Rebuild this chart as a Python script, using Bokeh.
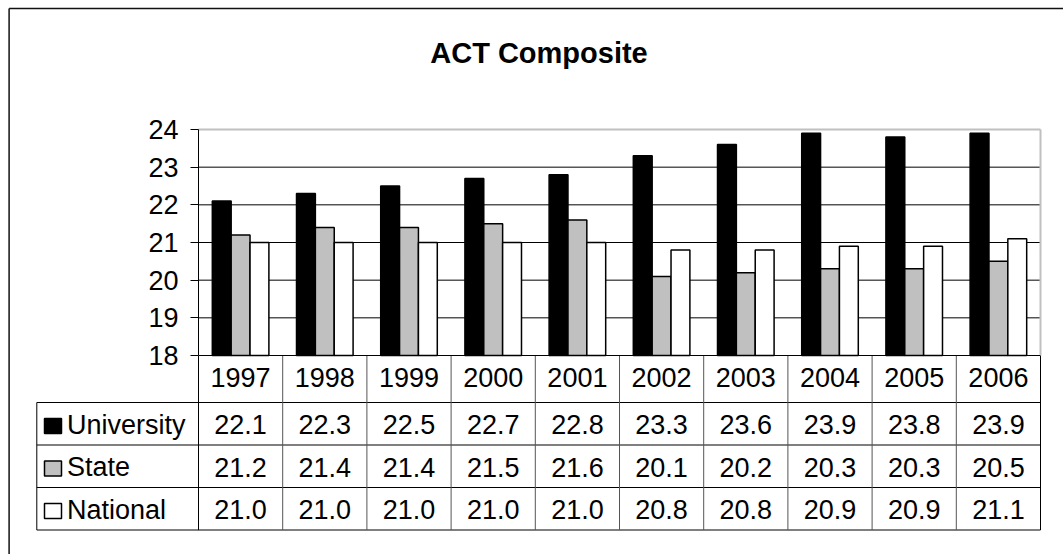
from bokeh.plotting import figure
from bokeh.models import ColumnDataSource, Range1d, FixedTicker, LinearAxis
from bokeh.transform import dodge
from bokeh.embed import file_html
from bokeh.resources import INLINE
from bokeh.core.properties import value

# ---------------- data ----------------
TITLE = "ACT Composite"
YEARS = ["1997", "1998", "1999", "2000", "2001", "2002", "2003", "2004", "2005", "2006"]
SERIES = ["University", "State", "National"]
UNIVERSITY = [22.1, 22.3, 22.5, 22.7, 22.8, 23.3, 23.6, 23.9, 23.8, 23.9]
STATE = [21.2, 21.4, 21.4, 21.5, 21.6, 20.1, 20.2, 20.3, 20.3, 20.5]
NATIONAL = [21.0, 21.0, 21.0, 21.0, 21.0, 20.8, 20.8, 20.9, 20.9, 21.1]
Y_TICKS = [18, 19, 20, 21, 22, 23, 24]

# ---------------- styles / layout (pixels) ----------------
FONT = "Liberation Sans"
COLORS = ["#000000", "#c0c0c0", "#ffffff"]
FS = "27px"
BAR_W = 0.224
OFFSETS = [-0.224, 0.0, 0.224]

FRAME_L, FRAME_R, FRAME_T, FRAME_B = 7, 1063, 6, 554
X0_PX, COL_PX = 198.0, 84.2                 # x = 0 at plot-area left, px per column
YMIN_PX, YMAX_PX = 355.0, 129.0             # pixel rows of the value axis ends
ROW0_PX, ROW_PX, HEADER_PX = 355.5, 42.5, 46.5

n = len(YEARS)
values = [UNIVERSITY, STATE, NATIONAL]
ymin, ymax = Y_TICKS[0], Y_TICKS[-1]
Y_UNIT_PX = (YMIN_PX - YMAX_PX) / (ymax - ymin)


def px_x(px):
    return (px - X0_PX) / COL_PX


def px_y(py):
    return ymin + (YMIN_PX - py) / Y_UNIT_PX


def px_row(py):
    return (py - ROW0_PX) / ROW_PX


p = figure(x_range=Range1d(px_x(FRAME_L), px_x(FRAME_R)),
           y_range=Range1d(px_y(FRAME_B), px_y(FRAME_T)),
           width=FRAME_R, height=FRAME_B,
           frame_width=FRAME_R - FRAME_L, frame_height=FRAME_B - FRAME_T,
           min_border=0, min_border_left=FRAME_L, min_border_right=0,
           min_border_top=FRAME_T, min_border_bottom=0,
           x_axis_location=None, y_axis_location=None, title_location=None,
           output_backend="svg", toolbar_location=None)
p.extra_y_ranges = {"table": Range1d(px_row(FRAME_B), px_row(FRAME_T))}
p.grid.visible = False
p.outline_line_color = None
p.outline_line_alpha = 0
p.background_fill_color = "white"
p.border_fill_color = "white"

# ---- outer chart border (top and left edges visible) ----
p.segment(x0=[px_x(8.6), px_x(8.6)], y0=[px_y(8), px_y(8)], x1=[px_x(8.6), px_x(FRAME_R)],
          y1=[px_y(FRAME_B), px_y(8)], line_color="#111111", line_width=1.5)

# ---- title ----
p.text(x=[px_x(538.5)], y=[px_y(52.3)], text=[TITLE], text_align="center",
       text_baseline="middle", text_font=value(FONT), text_font_size="29px",
       text_font_style="bold", text_color="black")

# ---- gridlines and plot-area edges ----
grid_y = Y_TICKS[1:-1]
p.segment(x0=[0] * len(grid_y), y0=grid_y, x1=[n] * len(grid_y), y1=grid_y,
          line_color="black", line_width=1)
p.segment(x0=[0, n], y0=[ymax, ymin], x1=[n, n], y1=[ymax, ymax],
          line_color="#c0c0c0", line_width=2)

# ---- bars ----
xc = [i + 0.5 for i in range(n)]
src = ColumnDataSource(dict(xc=xc, year=YEARS, University=UNIVERSITY, State=STATE, National=NATIONAL))
for k, name in enumerate(SERIES):
    p.vbar(x=dodge("xc", OFFSETS[k]), top=name, bottom=ymin, width=BAR_W, source=src,
           fill_color=COLORS[k], line_color="black", line_width=1.5)

# ---- value axis ----
yax = LinearAxis(fixed_location=0, bounds=(ymin, ymax), ticker=FixedTicker(ticks=Y_TICKS))
yax.major_tick_out = 8
yax.major_tick_in = 0
yax.minor_tick_out = 0
yax.minor_tick_in = 0
yax.major_label_standoff = 12
yax.major_label_text_font = FONT
yax.major_label_text_font_size = FS
yax.major_label_text_color = "black"
yax.axis_line_color = "black"
yax.major_tick_line_color = "black"
p.add_layout(yax, "left")

# ---- category axis (years, in the table header row) ----
xax = LinearAxis(fixed_location=ymin, bounds=(0, n), ticker=FixedTicker(ticks=xc),
                 major_label_overrides={x: y for x, y in zip(xc, YEARS)})
xax.major_tick_out = 0
xax.major_tick_in = 0
xax.minor_tick_out = 0
xax.minor_tick_in = 0
xax.major_label_standoff = 12
xax.major_label_text_font = FONT
xax.major_label_text_font_size = FS
xax.major_label_text_color = "black"
xax.axis_line_color = "black"
p.add_layout(xax, "below")

# ---- data table ----
HDR = HEADER_PX / ROW_PX
EDGES = [0.0] + [HDR + i for i in range(len(SERIES) + 1)]
TABLE_LEFT = px_x(36.3)

hy = EDGES[1:]
p.segment(x0=[TABLE_LEFT] * len(hy), y0=hy, x1=[n] * len(hy), y1=hy,
          line_color="black", line_width=1, y_range_name="table")
vx = list(range(1, n))
p.segment(x0=vx, y0=[0] * len(vx), x1=vx, y1=[EDGES[-1]] * len(vx),
          line_color="#555555", line_width=1, y_range_name="table")
p.segment(x0=[0, n, TABLE_LEFT], y0=[0, 0, EDGES[1]], x1=[0, n, TABLE_LEFT], y1=[EDGES[-1]] * 3,
          line_color="black", line_width=1, y_range_name="table")

for k, vals in enumerate(values):
    yc = (EDGES[k + 1] + EDGES[k + 2]) / 2 + 1.0 / ROW_PX
    p.text(x=xc, y=[yc] * n, text=[f"{v:.1f}" for v in vals], text_align="center",
           text_baseline="middle", text_font=value(FONT), text_font_size=FS,
           text_color="black", y_range_name="table")

row_c = [(EDGES[k + 1] + EDGES[k + 2]) / 2 for k in range(len(SERIES))]
p.rect(x=[px_x(52.5)] * len(SERIES), y=[c + 2.2 / ROW_PX for c in row_c],
       width=17, height=15, width_units="screen", height_units="screen",
       fill_color=COLORS, line_color="black", line_width=1.5, y_range_name="table")
p.text(x=[px_x(66.5)] * len(SERIES), y=[c + 1.0 / ROW_PX for c in row_c], text=SERIES,
       text_align="left", text_baseline="middle", text_font=value(FONT), text_font_size=FS,
       text_color="black", y_range_name="table")

open("out.html", "w").write(file_html(p, INLINE))
